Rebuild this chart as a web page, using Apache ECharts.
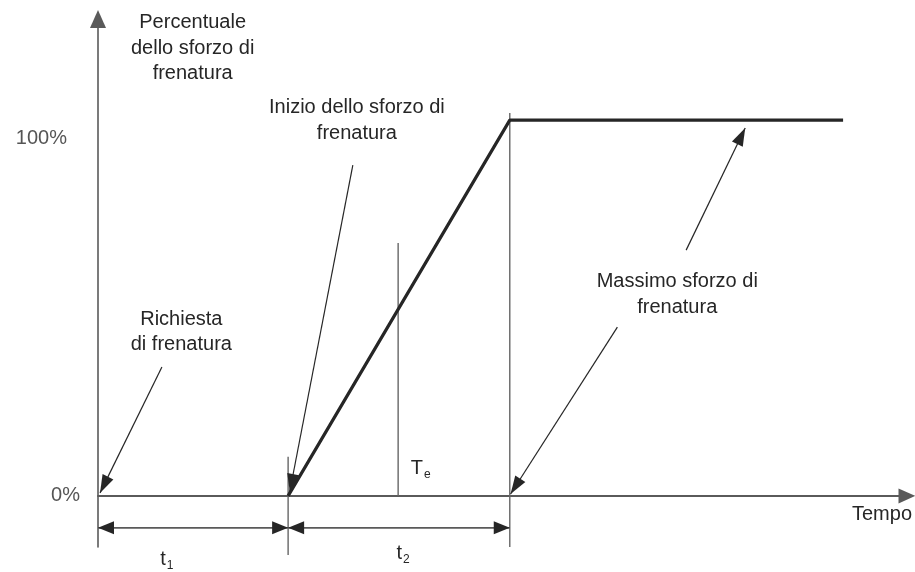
<!DOCTYPE html>
<html>
<head>
<meta charset="utf-8">
<script src="https://cdn.jsdelivr.net/npm/echarts@6/dist/echarts.min.js"></script>
<style>
  html,body{margin:0;padding:0;background:#fff}
  #chart{width:915px;height:572px}
</style>
</head>
<body>
<div id="chart"></div>
<script>
// time axis runs 0..100 (arbitrary units), effort in percent
const xRange = [0, 100];
const yRange = [-13.6, 126.9];
const yTicks = [0, 100];
const yTickLabels = ['0%', '100%'];

// braking effort curve: starts at end of t1, full at end of t2
const effort = [[23.5, 0], [50.9, 100], [92.1, 100]];

// thin guide lines [x1, y1, x2, y2]
const guides = [
  [50.9, 101.9, 50.9, -13.6],
  [23.5, 10.4, 23.5, -15.7],
  [37.1, 0, 37.1, 67.3]
];

// dimension lines (arrow at both ends)
const dimensions = [
  [0, -8.5, 23.5, -8.5],
  [23.5, -8.5, 50.9, -8.5]
];

// callout arrows, head at the second point
const callouts = [
  [7.9, 34.3, 0.25, 0.8],
  [31.5, 88.0, 23.7, 1.1],
  [64.2, 44.9, 51.0, 0.5],
  [72.7, 65.4, 80.0, 97.9]
];

// annotation texts and where they sit
const notePos = [[11.7, 119.1], [32.0, 99.9], [71.6, 53.6], [10.3, 43.6]];
const noteText = [
  'Percentuale\ndello sforzo di\nfrenatura',
  'Inizio dello sforzo di\nfrenatura',
  'Massimo sforzo di\nfrenatura',
  'Richiesta\ndi frenatura'
];

// symbol labels with subscripts
const symPos = [[8.5, -17.3], [37.7, -15.7], [39.9, 6.9]];
const symMain = ['t', 't', 'T'];
const symSub = ['1', '2', 'e'];

const FONT = "'Liberation Sans', Arial, sans-serif";
const FS = 20;
const INK = '#262626';
const AXIS = '#5a5a5a';

function headShape(tip, from, len, w) {
  const dx = tip[0] - from[0], dy = tip[1] - from[1];
  const d = Math.hypot(dx, dy) || 1;
  const ux = dx / d, uy = dy / d;
  const bx = tip[0] - ux * len, by = tip[1] - uy * len;
  return [[tip[0], tip[1]], [bx - uy * w / 2, by + ux * w / 2], [bx + uy * w / 2, by - ux * w / 2]];
}

function segments(rows, opts) {
  return function (params, api) {
    const r = rows[params.dataIndex];
    const a = api.coord([r[0], r[1]]);
    const b = api.coord([r[2], r[3]]);
    const kids = [{
      type: 'line',
      shape: { x1: a[0], y1: a[1], x2: b[0], y2: b[1] },
      style: { stroke: opts.color, lineWidth: opts.width }
    }];
    if (opts.end) kids.push({ type: 'polygon', shape: { points: headShape(b, a, opts.len, opts.w) }, style: { fill: opts.headColor } });
    if (opts.start) kids.push({ type: 'polygon', shape: { points: headShape(a, b, opts.len, opts.w) }, style: { fill: opts.headColor } });
    return { type: 'group', children: kids };
  };
}

const chart = echarts.init(document.getElementById('chart'), null, { renderer: 'canvas' });

chart.setOption({
  animation: false,
  backgroundColor: '#fff',
  grid: { left: 98, right: 8, top: 19, bottom: 25, containLabel: false },
  xAxis: {
    type: 'value', min: xRange[0], max: xRange[1],
    axisLine: { onZero: true, lineStyle: { color: AXIS, width: 2 }, symbol: ['none', 'triangle'], symbolSize: [15, 17] },
    axisTick: { show: false }, axisLabel: { show: false }, splitLine: { show: false },
    name: 'Tempo', nameLocation: 'end', nameGap: 5,
    nameTextStyle: { color: INK, fontSize: FS, fontFamily: FONT, align: 'right', verticalAlign: 'top', padding: [9, 0, 0, 0] }
  },
  yAxis: {
    type: 'value', min: yRange[0], max: yRange[1],
    axisLine: { lineStyle: { color: AXIS, width: 1.6 }, symbol: ['none', 'triangle'], symbolSize: [16, 18] },
    axisTick: { show: false }, splitLine: { show: false },
    axisLabel: {
      customValues: yTicks, margin: 18, color: '#555', fontSize: FS, fontFamily: FONT,
      formatter: v => v === yTicks[1] ? '{hi|' + yTickLabels[1] + '}' : '{lo|' + yTickLabels[0] + '}',
      rich: {
        hi: { fontSize: FS, fontFamily: FONT, color: '#555', padding: [36, 13, 0, 0] },
        lo: { fontSize: FS, fontFamily: FONT, color: '#555' }
      }
    }
  },
  series: [
    {
      type: 'custom', name: 'guides', z: 2,
      data: guides,
      renderItem: segments(guides, { color: '#666', width: 1.4 })
    },
    {
      type: 'line', name: 'sforzo', z: 3,
      data: effort, showSymbol: false, symbol: 'none',
      lineStyle: { color: INK, width: 3.2 }
    },
    {
      type: 'custom', name: 'quote', z: 4,
      data: dimensions,
      renderItem: segments(dimensions, { color: AXIS, width: 1.8, start: true, end: true, len: 16, w: 13, headColor: INK })
    },
    {
      type: 'custom', name: 'frecce', z: 5,
      data: callouts,
      renderItem: segments(callouts, { color: INK, width: 1.2, end: true, len: 18, w: 12, headColor: INK })
    },
    {
      type: 'custom', name: 'note', z: 6,
      data: notePos,
      renderItem: function (params, api) {
        const p = api.coord(notePos[params.dataIndex]);
        return {
          type: 'text', x: p[0], y: p[1],
          style: {
            text: noteText[params.dataIndex], fill: INK,
            fontSize: FS, fontFamily: FONT, lineHeight: 25.5,
            align: 'center', verticalAlign: 'middle'
          }
        };
      }
    },
    {
      type: 'custom', name: 'simboli', z: 6,
      data: symPos,
      renderItem: function (params, api) {
        const i = params.dataIndex;
        const p = api.coord(symPos[i]);
        return {
          type: 'text', x: p[0], y: p[1],
          style: {
            text: '{m|' + symMain[i] + '}{s|' + symSub[i] + '}',
            align: 'center', verticalAlign: 'middle',
            rich: {
              m: { fontSize: FS, fontFamily: FONT, fill: INK, color: INK, lineHeight: 22, verticalAlign: 'top' },
              s: { fontSize: 12, fontFamily: FONT, fill: INK, color: INK, lineHeight: 12, padding: [10, 0, 0, 1], verticalAlign: 'top' }
            }
          }
        };
      }
    }
  ]
});
</script>
</body>
</html>
